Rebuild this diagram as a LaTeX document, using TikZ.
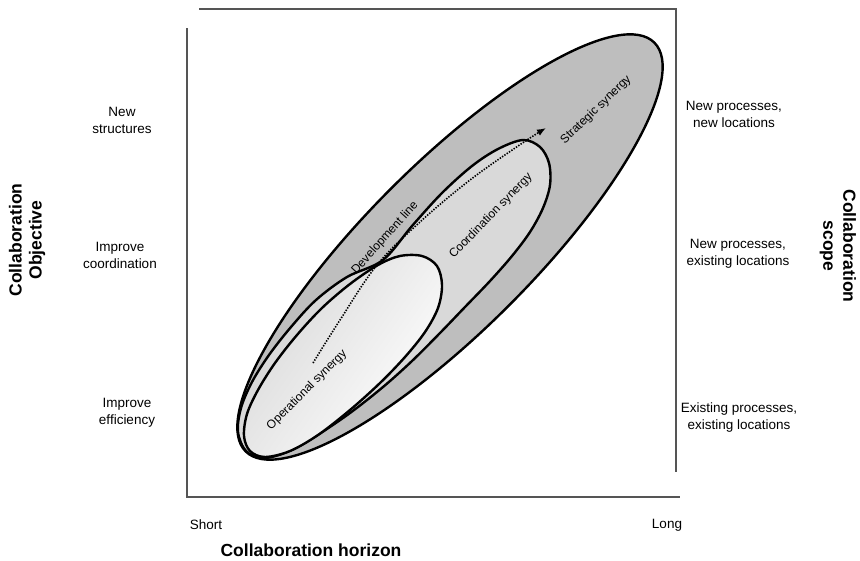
\documentclass[tikz,border=0pt]{standalone}
\usepackage{fontspec}
\setmainfont{Liberation Sans}
\usetikzlibrary{arrows.meta}
\definecolor{outerfill}{HTML}{BEBEBE}
\definecolor{midfill}{HTML}{D9D9D9}
\definecolor{framegray}{HTML}{555555}
\begin{document}
\begin{tikzpicture}[x=1pt,y=-1pt,
  frameline/.style={draw=framegray,line width=1.1pt},
  blob/.style={draw=black,line width=2.4pt,line join=round},
  axislabel/.style={font=\fontsize{13.5}{17}\selectfont,align=center,inner sep=0pt},
  innerlabel/.style={font=\fontsize{12}{14}\selectfont,inner sep=0pt},
  title/.style={font=\bfseries\fontsize{17.5}{20}\selectfont,align=center,inner sep=0pt},
  devline/.style={line width=1.6pt,dash pattern=on 1.4pt off 1.4pt,-{Latex[length=9pt,width=7pt]}}]
\useasboundingbox (0,0) rectangle (860,560);
% frame
\draw[frameline] (187,28) -- (187,497) -- (680,497);
\draw[frameline] (199,9) -- (676,9) -- (676,472);
% outer (strategic)
\draw[blob,fill=outerfill,rotate around={45:(450,247)}] (450,247) ellipse [x radius=289,y radius=83];
% middle (coordination)
\draw[blob,fill=midfill] plot[smooth cycle,tension=0.55] coordinates {
 (523,140) (540,147) (549,163) (550,185) (543,208) (530,232) (512,256) (490,281) (465,307) (440,333) (412,361) (383,387) (350,413) (316,436) (287,452) (263,458) (246,451) (238,432) (241,408) (252,382) (269,355) (291,327) (316,300) (347,277) (383,260) (412,226) (442,193) (472,166) (498,149)};
% inner (operational)
\draw[blob,left color=black!15,right color=white,shading angle=55] plot[smooth cycle,tension=0.55] coordinates {
 (400,256) (422,256) (437,266) (442,285) (438,308) (425,332) (405,357) (380,383) (350,410) (318,435) (290,451) (265,457) (250,451) (244,436) (247,414) (258,390) (275,363) (297,335) (322,308) (350,284) (378,265)};
% development line
\coordinate (devstart) at (313,363);
\coordinate (devend) at (546,128);
\draw[devline] plot[smooth,tension=0.6] coordinates {(devstart) (340,320) (377,265) (420,222) (470,180) (521,144) (devend)};
% inner labels
\node[innerlabel,rotate=45] (oplab) at (307,390) {Operational synergy};
\node[innerlabel,rotate=48] (devlab) at (385,238) {Development line};
\node[innerlabel,rotate=46] (coordlab) at (491,216) {Coordination synergy};
\node[innerlabel,rotate=44] (stratlab) at (596,110) {Strategic synergy};
% left labels
\node[axislabel] (newstruct) at (122,120) {New\\structures};
\node[axislabel] (impcoord) at (120,255) {Improve\\coordination};
\node[axislabel] (impeff) at (127,413) {Improve\\efficiency};
% right labels
\node[axislabel] (newnew) at (734,114) {New processes,\\new locations};
\node[axislabel] (newexist) at (738,254) {New processes,\\existing locations};
\node[axislabel] (existexist) at (739,418) {Existing processes,\\existing locations};
% bottom labels
\node[axislabel] (short) at (206,525) {Short};
\node[axislabel] (long) at (667,525) {Long};
\node[title] (horizon) at (311,550) {Collaboration horizon};
\node[title,rotate=90] (objective) at (27,240) {Collaboration\\Objective};
\node[title,rotate=-90] (scope) at (838,246) {Collaboration\\scope};
\end{tikzpicture}
\end{document}
